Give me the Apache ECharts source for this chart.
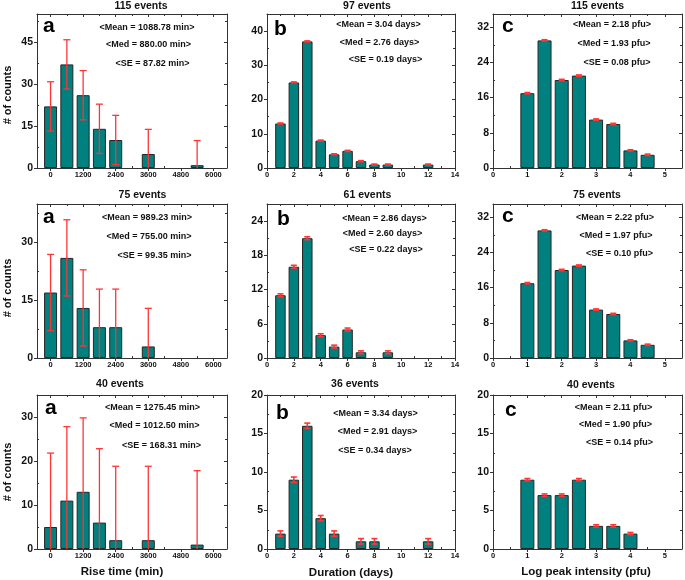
<!DOCTYPE html>
<html><head><meta charset="utf-8">
<script src="https://cdn.jsdelivr.net/npm/echarts@6/dist/echarts.min.js"></script>
<style>html,body{margin:0;padding:0;background:#fff}#c{width:685px;height:580px}</style>
</head><body><div id="c"></div>
<script>
// ===== DATA =====
// Rise time (min) histograms
const riseBins115 = [0, 600, 1200, 1800, 2400, 3600, 5400];
const riseCounts115 = [22, 37, 26, 14, 10, 5, 1];
const riseErr115 = [8.8, 8.8, 8.8, 8.8, 8.8, 8.8, 8.8];
const riseBins75 = [0, 600, 1200, 1800, 2400, 3600];
const riseCounts75 = [17, 26, 13, 8, 8, 3];
const riseErr75 = [9.9, 9.9, 9.9, 9.9, 9.9, 9.9];
const riseBins40 = [0, 600, 1200, 1800, 2400, 3600, 5400];
const riseCounts40 = [5, 11, 13, 6, 2, 2, 1];
const riseErr40 = [16.8, 16.8, 16.8, 16.8, 16.8, 16.8, 16.8];
// Duration (days) histograms
const durBins97 = [1, 2, 3, 4, 5, 6, 7, 8, 9, 12];
const durCounts97 = [13, 25, 37, 8, 4, 5, 2, 1, 1, 1];
const durErr97 = [0.15, 0.15, 0.15, 0.15, 0.15, 0.15, 0.15, 0.15, 0.15, 0.15];
const durBins61 = [1, 2, 3, 4, 5, 6, 7, 9];
const durCounts61 = [11, 16, 21, 4, 2, 5, 1, 1];
const durErr61 = [0.25, 0.25, 0.25, 0.25, 0.25, 0.25, 0.25, 0.25];
const durBins36 = [1, 2, 3, 4, 5, 7, 8, 12];
const durCounts36 = [2, 9, 16, 4, 2, 1, 1, 1];
const durErr36 = [0.35, 0.35, 0.35, 0.35, 0.35, 0.35, 0.35, 0.35];
// Log peak intensity (pfu) histograms
const pfuBins115 = [1, 1.5, 2, 2.5, 3, 3.5, 4, 4.5];
const pfuCounts115 = [17, 29, 20, 21, 11, 10, 4, 3];
const pfuErr115 = [0.15, 0.15, 0.15, 0.15, 0.15, 0.15, 0.15, 0.15];
const pfuBins75 = [1, 1.5, 2, 2.5, 3, 3.5, 4, 4.5];
const pfuCounts75 = [17, 29, 20, 21, 11, 10, 4, 3];
const pfuErr75 = [0.15, 0.15, 0.15, 0.15, 0.15, 0.15, 0.15, 0.15];
const pfuBins40 = [1, 1.5, 2, 2.5, 3, 3.5, 4];
const pfuCounts40 = [9, 7, 7, 9, 3, 3, 2];
const pfuErr40 = [0.15, 0.15, 0.15, 0.15, 0.15, 0.15, 0.15];

// Tick labels
const riseXTicks = [0, 1200, 2400, 3600, 4800, 6000];
const durXTicks = [0, 2, 4, 6, 8, 10, 12, 14];
const pfuXTicks = [0, 1, 2, 3, 4, 5];
const riseXRange = [-500, 6500];
const durXRange = [0, 14];
const pfuXRange = [0, 5.5];
const yTicksA115 = [0, 15, 30, 45];
const yTicksA75 = [0, 15, 30];
const yTicksA40 = [0, 10, 20, 30];
const yTicksB97 = [0, 10, 20, 30, 40];
const yTicksB61 = [0, 6, 12, 18, 24];
const yTicksB36 = [0, 5, 10, 15, 20];
const yTicksC115 = [0, 8, 16, 24, 32];
const yTicksC75 = [0, 8, 16, 24, 32];
const yTicksC40 = [0, 5, 10, 15, 20];
const yMaxA = [55, 40, 35];
const yMaxB = [45, 27, 20];
const yMaxC = [35, 35, 20];

// Texts
const eventTitles = ['115 events', '97 events', '115 events', '75 events', '61 events', '75 events', '40 events', '36 events', '40 events'];
const panelLetters = ['a', 'b', 'c'];
const xNames = ['Rise time (min)', 'Duration (days)', 'Log peak intensity (pfu)'];
const yName = '# of counts';
const statsA115 = ['<Mean = 1088.78 min>', '<Med = 880.00 min>', '<SE = 87.82 min>'];
const statsB97 = ['<Mean = 3.04 days>', '<Med = 2.76 days>', '<SE = 0.19 days>'];
const statsC115 = ['<Mean = 2.18 pfu>', '<Med = 1.93 pfu>', '<SE = 0.08 pfu>'];
const statsA75 = ['<Mean = 989.23 min>', '<Med = 755.00 min>', '<SE = 99.35 min>'];
const statsB61 = ['<Mean = 2.86 days>', '<Med = 2.60 days>', '<SE = 0.22 days>'];
const statsC75 = ['<Mean = 2.22 pfu>', '<Med = 1.97 pfu>', '<SE = 0.10 pfu>'];
const statsA40 = ['<Mean = 1275.45 min>', '<Med = 1012.50 min>', '<SE = 168.31 min>'];
const statsB36 = ['<Mean = 3.34 days>', '<Med = 2.91 days>', '<SE = 0.34 days>'];
const statsC40 = ['<Mean = 2.11 pfu>', '<Med = 1.90 pfu>', '<SE = 0.14 pfu>'];

// ===== LAYOUT / STYLE =====
const FONT = "'Liberation Sans', Arial, sans-serif";
const gridLeft = [37, 267, 493];
const gridWidth = [190, 188, 189];
const gridTop = [14, 204, 395];
const gridHeight = [154, 154, 154];
const titlePos = [[141, 6], [367, 6], [597.5, 6], [142.5, 195], [367.5, 195], [597, 195], [120, 384], [355, 384], [591, 385]];
const letterPos = [[43, 26], [274, 29], [502, 26], [43, 217], [277, 219], [502, 216], [45, 408], [276, 413], [505, 410]];
const statsPos = [
  [[147, 28], [148.5, 45], [152.5, 64]],
  [[378.5, 25], [379.5, 43], [385.5, 60]],
  [[612, 25], [614, 44], [617, 63]],
  [[147, 218], [149, 237], [154.5, 256]],
  [[384.5, 219], [382.5, 234], [386, 250]],
  [[615, 218], [616, 236], [619.5, 254]],
  [[152.5, 408], [154.5, 426], [161.5, 446]],
  [[375.5, 414], [377.5, 432], [375, 451]],
  [[613.5, 408], [615.5, 425], [619.5, 443]]
];
const yNamePos = [[7.5, 95], [7.5, 288], [7.5, 472]];
const xNamePos = [[122, 572], [351, 573], [586, 572]];
const BAR_COLOR = '#00807e';
const ERR_COLOR = '#ff3535';

const panels = [
  {bins: riseBins115, counts: riseCounts115, err: riseErr115, xr: riseXRange, xt: riseXTicks, ymax: yMaxA[0], yt: yTicksA115, stats: statsA115, kind: 'a'},
  {bins: durBins97, counts: durCounts97, err: durErr97, xr: durXRange, xt: durXTicks, ymax: yMaxB[0], yt: yTicksB97, stats: statsB97, kind: 'b'},
  {bins: pfuBins115, counts: pfuCounts115, err: pfuErr115, xr: pfuXRange, xt: pfuXTicks, ymax: yMaxC[0], yt: yTicksC115, stats: statsC115, kind: 'c'},
  {bins: riseBins75, counts: riseCounts75, err: riseErr75, xr: riseXRange, xt: riseXTicks, ymax: yMaxA[1], yt: yTicksA75, stats: statsA75, kind: 'a'},
  {bins: durBins61, counts: durCounts61, err: durErr61, xr: durXRange, xt: durXTicks, ymax: yMaxB[1], yt: yTicksB61, stats: statsB61, kind: 'b'},
  {bins: pfuBins75, counts: pfuCounts75, err: pfuErr75, xr: pfuXRange, xt: pfuXTicks, ymax: yMaxC[1], yt: yTicksC75, stats: statsC75, kind: 'c'},
  {bins: riseBins40, counts: riseCounts40, err: riseErr40, xr: riseXRange, xt: riseXTicks, ymax: yMaxA[2], yt: yTicksA40, stats: statsA40, kind: 'a'},
  {bins: durBins36, counts: durCounts36, err: durErr36, xr: durXRange, xt: durXTicks, ymax: yMaxB[2], yt: yTicksB36, stats: statsB36, kind: 'b'},
  {bins: pfuBins40, counts: pfuCounts40, err: pfuErr40, xr: pfuXRange, xt: pfuXTicks, ymax: yMaxC[2], yt: yTicksC40, stats: statsC40, kind: 'c'}
];
const kindStyle = {
  a: {barWidth: 13, capHalf: 3.5, errWidth: 1.3},
  b: {barWidth: 10.5, capHalf: 3, errWidth: 1.6},
  c: {barWidth: 14, capHalf: 3, errWidth: 1.6}
};

function minors(ticks, min, max) {
  const step = ticks[1] - ticks[0];
  const out = [];
  for (let v = ticks[0] - step / 2; v <= max + 1e-9; v += step) {
    if (v >= min - 1e-9) out.push(+v.toFixed(6));
  }
  return out;
}
const plainFmt = v => String(+(+v).toFixed(6));

const grids = [], xAxes = [], yAxes = [], series = [], graphics = [];
const axisColor = '#333';

panels.forEach((p, i) => {
  const row = Math.floor(i / 3), col = i % 3;
  const ks = kindStyle[p.kind];
  grids.push({left: gridLeft[col], top: gridTop[row], width: gridWidth[col], height: gridHeight[row], containLabel: false, show: false});
  const xMin = p.xr[0], xMax = p.xr[1];
  const xMinor = minors(p.xt, xMin, xMax);
  const yMinor = minors(p.yt, 0, p.ymax);
  const xBase = {gridIndex: i, type: 'value', min: xMin, max: xMax, splitLine: {show: false}, axisPointer: {show: false}};
  const yBase = {gridIndex: i, type: 'value', min: 0, max: p.ymax, splitLine: {show: false}, axisPointer: {show: false}};
  const mainXIndex = xAxes.length;
  xAxes.push(Object.assign({}, xBase, {position: 'bottom',
    axisLine: {show: true, onZero: false, lineStyle: {color: axisColor, width: 1}},
    axisTick: {show: true, inside: false, length: 3, customValues: p.xt, lineStyle: {color: axisColor}},
    axisLabel: {show: true, customValues: p.xt, formatter: plainFmt, margin: 3, fontSize: 7.5, fontWeight: 'bold', color: '#111', fontFamily: FONT}}));
  xAxes.push(Object.assign({}, xBase, {position: 'top',
    axisLine: {show: true, onZero: false, lineStyle: {color: axisColor, width: 1}},
    axisTick: {show: true, inside: true, length: 3, customValues: p.xt, lineStyle: {color: axisColor}},
    axisLabel: {show: false}}));
  ['bottom', 'top'].forEach(pos => {
    xAxes.push(Object.assign({}, xBase, {position: pos,
      axisLine: {show: false, onZero: false},
      axisTick: {show: true, inside: true, length: 2, customValues: xMinor, lineStyle: {color: axisColor}},
      axisLabel: {show: false}}));
  });
  const mainYIndex = yAxes.length;
  yAxes.push(Object.assign({}, yBase, {position: 'left',
    axisLine: {show: true, onZero: false, lineStyle: {color: axisColor, width: 1}},
    axisTick: {show: true, inside: false, length: 3, customValues: p.yt, lineStyle: {color: axisColor}},
    axisLabel: {show: true, customValues: p.yt, formatter: plainFmt, margin: 4, fontSize: 10.5, fontWeight: 'bold', color: '#111', fontFamily: FONT}}));
  yAxes.push(Object.assign({}, yBase, {position: 'right',
    axisLine: {show: true, onZero: false, lineStyle: {color: axisColor, width: 1}},
    axisTick: {show: true, inside: true, length: 3, customValues: p.yt, lineStyle: {color: axisColor}},
    axisLabel: {show: false}}));
  ['left', 'right'].forEach(pos => {
    yAxes.push(Object.assign({}, yBase, {position: pos,
      axisLine: {show: false, onZero: false},
      axisTick: {show: true, inside: true, length: 2, customValues: yMinor, lineStyle: {color: axisColor}},
      axisLabel: {show: false}}));
  });

  series.push({
    type: 'bar', xAxisIndex: mainXIndex, yAxisIndex: mainYIndex, silent: true, animation: false,
    barWidth: ks.barWidth,
    data: p.bins.map((b, k) => [b, p.counts[k]]),
    itemStyle: {color: BAR_COLOR, borderColor: '#262626', borderWidth: 1}
  });
  series.push({
    type: 'custom', xAxisIndex: mainXIndex, yAxisIndex: mainYIndex, silent: true, animation: false, clip: true, z: 5,
    encode: {x: 0, y: 1},
    data: p.bins.map((b, k) => [b, p.counts[k], p.err[k]]),
    renderItem: (params, api) => {
      const x = api.value(0), y = api.value(1), e = api.value(2);
      const t = api.coord([x, y + e]);
      const b = api.coord([x, y - e]);
      const st = {stroke: ERR_COLOR, lineWidth: ks.errWidth};
      const h = ks.capHalf;
      return {type: 'group', children: [
        {type: 'line', shape: {x1: t[0], y1: t[1], x2: b[0], y2: b[1]}, style: st},
        {type: 'line', shape: {x1: t[0] - h, y1: t[1], x2: t[0] + h, y2: t[1]}, style: st},
        {type: 'line', shape: {x1: b[0] - h, y1: b[1], x2: b[0] + h, y2: b[1]}, style: st}
      ]};
    }
  });

  graphics.push({type: 'text', x: titlePos[i][0], y: titlePos[i][1], silent: true,
    style: {text: eventTitles[i], font: 'bold 10.5px ' + FONT, fill: '#111', align: 'center', verticalAlign: 'middle'}});
  graphics.push({type: 'text', x: letterPos[i][0], y: letterPos[i][1], silent: true,
    style: {text: panelLetters[col], font: 'bold 21px ' + FONT, fill: '#000', align: 'left', verticalAlign: 'middle'}});
  p.stats.forEach((s, k) => {
    graphics.push({type: 'text', x: statsPos[i][k][0], y: statsPos[i][k][1], silent: true,
      style: {text: s, font: 'bold 9px ' + FONT, fill: '#111', align: 'center', verticalAlign: 'middle'}});
  });
});

yNamePos.forEach(pos => {
  graphics.push({type: 'text', x: pos[0], y: pos[1], rotation: Math.PI / 2, silent: true,
    style: {text: yName, font: 'bold 11px ' + FONT, fill: '#111', align: 'center', verticalAlign: 'middle'}});
});
xNames.forEach((n, k) => {
  graphics.push({type: 'text', x: xNamePos[k][0], y: xNamePos[k][1], silent: true,
    style: {text: n, font: 'bold 11.5px ' + FONT, fill: '#111', align: 'center', verticalAlign: 'middle'}});
});

const chart = echarts.init(document.getElementById('c'), null, {renderer: 'canvas'});
chart.setOption({
  animation: false,
  backgroundColor: '#ffffff',
  grid: grids,
  xAxis: xAxes,
  yAxis: yAxes,
  series: series,
  graphic: {elements: graphics}
});
</script>
</body></html>
